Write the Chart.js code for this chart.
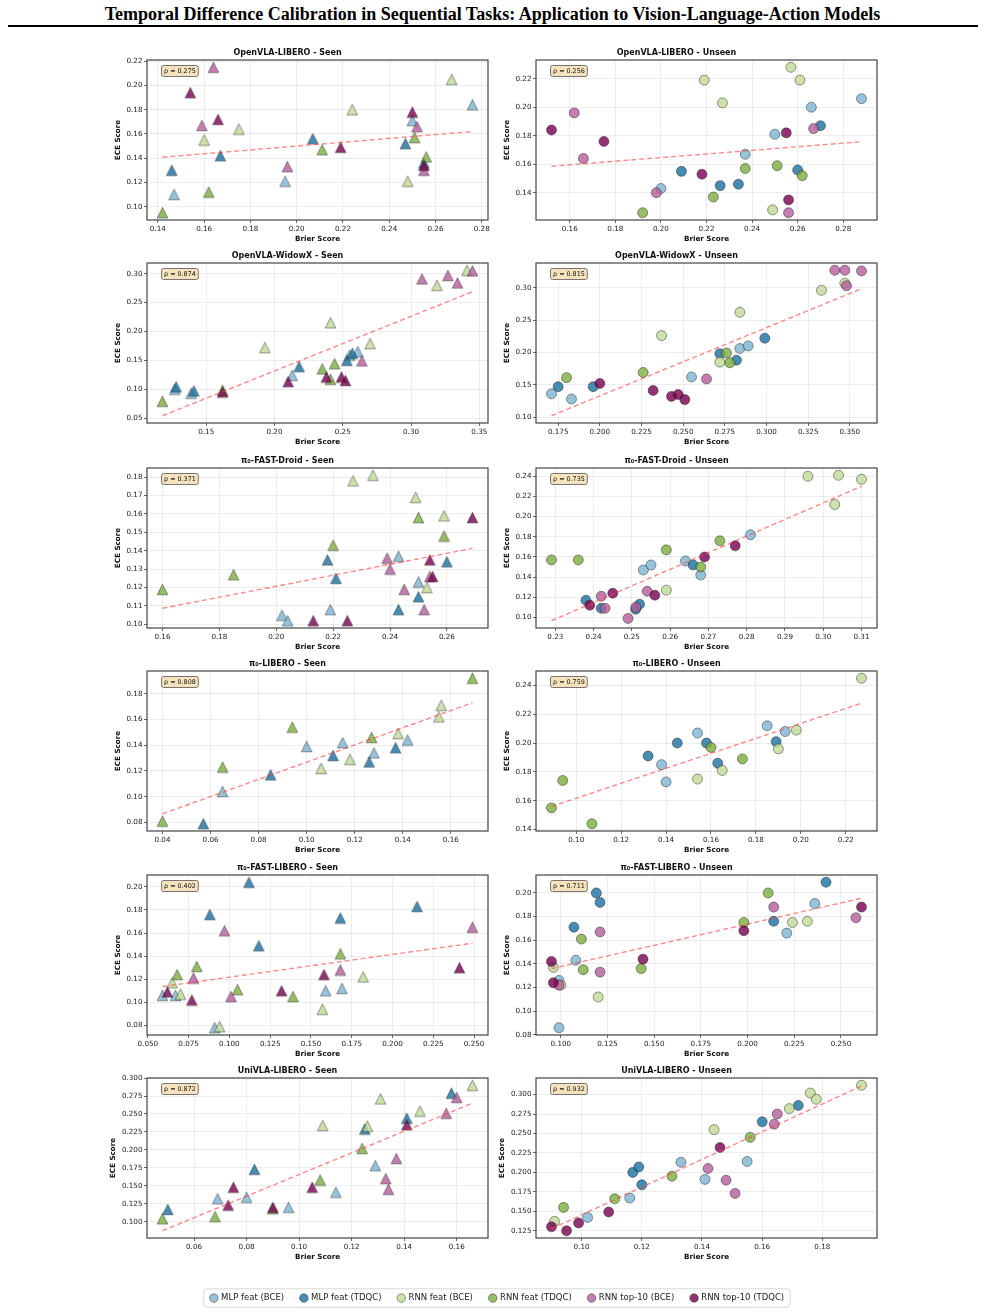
<!DOCTYPE html>
<html>
<head>
<meta charset="utf-8">
<script src="https://cdn.jsdelivr.net/npm/chart.js@4.4.1/dist/chart.umd.min.js"></script>
<style>
  html, body { margin: 0; padding: 0; background: #fff; }
  body { width: 985px; height: 1312px; position: relative; overflow: hidden; }
  #suptitle { position: absolute; left: 0; top: 3px; width: 985px; text-align: center;
    font-family: "Liberation Serif", "DejaVu Serif", serif; font-weight: bold; font-size: 18px;
    line-height: 22px; color: #000; }
  #rule { position: absolute; left: 8px; top: 25px; width: 970px; border-top: 2px solid #000; }
  canvas { position: absolute; }
</style>
</head>
<body>
<div id="suptitle">Temporal Difference Calibration in Sequential Tasks: Application to Vision-Language-Action Models</div>
<div id="rule"></div>
<script>
const seriesNames = ['MLP feat (BCE)', 'MLP feat (TDQC)', 'RNN feat (BCE)', 'RNN feat (TDQC)', 'RNN top-10 (BCE)', 'RNN top-10 (TDQC)'];
const seriesKeys = ['mlpBce', 'mlpTdqc', 'rnnBce', 'rnnTdqc', 'topBce', 'topTdqc'];

// [brier, ece] per task; fit = ends of the dashed trend line
const openvlaLiberoSeen = {
  mlpBce: [[0.147, 0.110], [0.195, 0.121], [0.250, 0.171], [0.276, 0.184]],
  mlpTdqc: [[0.146, 0.130], [0.167, 0.142], [0.207, 0.156], [0.247, 0.152], [0.255, 0.136]],
  rnnBce: [[0.160, 0.155], [0.175, 0.164], [0.224, 0.180], [0.248, 0.121], [0.267, 0.205]],
  rnnTdqc: [[0.142, 0.095], [0.162, 0.112], [0.211, 0.147], [0.251, 0.157], [0.256, 0.141]],
  topBce: [[0.159, 0.167], [0.164, 0.215], [0.196, 0.133], [0.252, 0.166], [0.255, 0.130]],
  topTdqc: [[0.154, 0.194], [0.166, 0.172], [0.219, 0.149], [0.250, 0.178], [0.255, 0.134]],
  fit: [[0.142, 0.1408], [0.276, 0.162]]
};
const openvlaLiberoUnseen = {
  mlpBce: [[0.200, 0.143], [0.237, 0.167], [0.250, 0.181], [0.266, 0.200], [0.288, 0.206]],
  mlpTdqc: [[0.209, 0.155], [0.226, 0.145], [0.234, 0.146], [0.260, 0.156], [0.270, 0.187]],
  rnnBce: [[0.219, 0.219], [0.227, 0.203], [0.249, 0.128], [0.257, 0.228], [0.261, 0.219]],
  rnnTdqc: [[0.192, 0.126], [0.223, 0.137], [0.237, 0.157], [0.251, 0.159], [0.262, 0.152]],
  topBce: [[0.162, 0.196], [0.166, 0.164], [0.198, 0.140], [0.256, 0.126], [0.267, 0.185]],
  topTdqc: [[0.152, 0.184], [0.175, 0.176], [0.218, 0.153], [0.255, 0.182], [0.256, 0.135]],
  fit: [[0.152, 0.1586], [0.288, 0.1758]]
};
const openvlaWidowxSeen = {
  mlpBce: [[0.127, 0.100], [0.139, 0.093], [0.213, 0.124], [0.255, 0.159], [0.261, 0.165]],
  mlpTdqc: [[0.128, 0.104], [0.141, 0.097], [0.218, 0.139], [0.253, 0.150], [0.257, 0.162]],
  rnnBce: [[0.193, 0.172], [0.241, 0.215], [0.270, 0.179], [0.319, 0.280], [0.341, 0.306]],
  rnnTdqc: [[0.118, 0.079], [0.162, 0.098], [0.235, 0.135], [0.241, 0.117], [0.244, 0.144]],
  topBce: [[0.264, 0.149], [0.308, 0.291], [0.327, 0.297], [0.334, 0.284], [0.345, 0.305]],
  topTdqc: [[0.162, 0.095], [0.210, 0.113], [0.238, 0.121], [0.249, 0.121], [0.252, 0.115]],
  fit: [[0.118, 0.054], [0.345, 0.2689]]
};
const openvlaWidowxUnseen = {
  mlpBce: [[0.171, 0.136], [0.183, 0.128], [0.255, 0.162], [0.284, 0.206], [0.289, 0.210]],
  mlpTdqc: [[0.175, 0.147], [0.196, 0.147], [0.272, 0.198], [0.282, 0.188], [0.299, 0.222]],
  rnnBce: [[0.237, 0.226], [0.272, 0.185], [0.284, 0.262], [0.333, 0.296], [0.347, 0.307]],
  rnnTdqc: [[0.180, 0.161], [0.226, 0.169], [0.276, 0.199], [0.278, 0.184]],
  topBce: [[0.264, 0.159], [0.341, 0.327], [0.347, 0.327], [0.348, 0.303], [0.357, 0.326]],
  topTdqc: [[0.200, 0.152], [0.232, 0.141], [0.243, 0.132], [0.247, 0.135], [0.251, 0.127]],
  fit: [[0.171, 0.1021], [0.357, 0.2985]]
};
const pi0FastDroidSeen = {
  mlpBce: [[0.202, 0.105], [0.204, 0.102], [0.219, 0.108], [0.243, 0.137], [0.250, 0.123]],
  mlpTdqc: [[0.218, 0.135], [0.221, 0.125], [0.243, 0.108], [0.250, 0.115], [0.260, 0.134]],
  rnnBce: [[0.227, 0.178], [0.234, 0.181], [0.249, 0.169], [0.253, 0.120], [0.259, 0.159]],
  rnnTdqc: [[0.160, 0.119], [0.185, 0.127], [0.220, 0.143], [0.250, 0.158], [0.259, 0.148]],
  topBce: [[0.239, 0.136], [0.240, 0.130], [0.245, 0.119], [0.252, 0.108], [0.254, 0.126]],
  topTdqc: [[0.213, 0.102], [0.225, 0.102], [0.254, 0.135], [0.255, 0.126], [0.269, 0.158]],
  fit: [[0.160, 0.1088], [0.269, 0.1413]]
};
const pi0FastDroidUnseen = {
  mlpBce: [[0.253, 0.147], [0.255, 0.152], [0.264, 0.156], [0.268, 0.142], [0.281, 0.182]],
  mlpTdqc: [[0.238, 0.117], [0.242, 0.109], [0.251, 0.108], [0.252, 0.113], [0.266, 0.152]],
  rnnBce: [[0.259, 0.127], [0.296, 0.240], [0.303, 0.212], [0.304, 0.241], [0.310, 0.237]],
  rnnTdqc: [[0.229, 0.157], [0.236, 0.157], [0.259, 0.167], [0.268, 0.150], [0.273, 0.176]],
  topBce: [[0.242, 0.121], [0.243, 0.109], [0.249, 0.099], [0.251, 0.110], [0.254, 0.126]],
  topTdqc: [[0.239, 0.112], [0.245, 0.124], [0.256, 0.122], [0.269, 0.160], [0.277, 0.171]],
  fit: [[0.229, 0.0967], [0.310, 0.2301]]
};
const pi0LiberoSeen = {
  mlpBce: [[0.065, 0.104], [0.100, 0.139], [0.115, 0.142], [0.128, 0.134], [0.142, 0.144]],
  mlpTdqc: [[0.057, 0.079], [0.085, 0.117], [0.111, 0.132], [0.126, 0.127], [0.137, 0.138]],
  rnnBce: [[0.106, 0.122], [0.118, 0.129], [0.138, 0.149], [0.155, 0.162], [0.156, 0.171]],
  rnnTdqc: [[0.040, 0.081], [0.065, 0.123], [0.094, 0.154], [0.127, 0.146], [0.169, 0.192]],
  topBce: [],
  topTdqc: [],
  fit: [[0.040, 0.0867], [0.169, 0.173]]
};
const pi0LiberoUnseen = {
  mlpBce: [[0.138, 0.185], [0.140, 0.173], [0.154, 0.207], [0.185, 0.212], [0.193, 0.208]],
  mlpTdqc: [[0.132, 0.191], [0.145, 0.200], [0.158, 0.200], [0.163, 0.186], [0.189, 0.201]],
  rnnBce: [[0.154, 0.175], [0.165, 0.181], [0.190, 0.196], [0.198, 0.209], [0.227, 0.245]],
  rnnTdqc: [[0.089, 0.155], [0.094, 0.174], [0.107, 0.144], [0.160, 0.197], [0.174, 0.189]],
  topBce: [],
  topTdqc: [],
  fit: [[0.089, 0.156], [0.227, 0.2277]]
};
const pi0FastLiberoSeen = {
  mlpBce: [[0.059, 0.106], [0.067, 0.106], [0.091, 0.078], [0.159, 0.110], [0.169, 0.112]],
  mlpTdqc: [[0.088, 0.176], [0.112, 0.204], [0.118, 0.149], [0.168, 0.173], [0.215, 0.183]],
  rnnBce: [[0.065, 0.117], [0.070, 0.107], [0.094, 0.079], [0.157, 0.094], [0.182, 0.122]],
  rnnTdqc: [[0.068, 0.124], [0.080, 0.131], [0.105, 0.111], [0.139, 0.105], [0.168, 0.142]],
  topBce: [[0.078, 0.121], [0.097, 0.162], [0.101, 0.105], [0.168, 0.128], [0.249, 0.165]],
  topTdqc: [[0.062, 0.109], [0.077, 0.102], [0.132, 0.110], [0.158, 0.124], [0.241, 0.130]],
  fit: [[0.059, 0.1137], [0.249, 0.1512]]
};
const pi0FastLiberoUnseen = {
  mlpBce: [[0.099, 0.126], [0.099, 0.086], [0.108, 0.143], [0.221, 0.166], [0.236, 0.191]],
  mlpTdqc: [[0.107, 0.171], [0.119, 0.200], [0.121, 0.192], [0.214, 0.176], [0.242, 0.209]],
  rnnBce: [[0.096, 0.137], [0.100, 0.122], [0.120, 0.112], [0.224, 0.175], [0.232, 0.176]],
  rnnTdqc: [[0.111, 0.161], [0.112, 0.135], [0.143, 0.136], [0.198, 0.175], [0.211, 0.200]],
  topBce: [[0.099, 0.122], [0.121, 0.167], [0.121, 0.133], [0.214, 0.188], [0.258, 0.179]],
  topTdqc: [[0.095, 0.142], [0.096, 0.124], [0.144, 0.144], [0.198, 0.168], [0.261, 0.188]],
  fit: [[0.095, 0.136], [0.261, 0.1955]]
};
const univlaLiberoSeen = {
  mlpBce: [[0.069, 0.132], [0.080, 0.134], [0.096, 0.120], [0.114, 0.141], [0.129, 0.178]],
  mlpTdqc: [[0.050, 0.117], [0.083, 0.173], [0.125, 0.229], [0.141, 0.244], [0.158, 0.279]],
  rnnBce: [[0.109, 0.234], [0.126, 0.233], [0.131, 0.271], [0.146, 0.254], [0.166, 0.290]],
  rnnTdqc: [[0.048, 0.104], [0.068, 0.107], [0.090, 0.118], [0.108, 0.158], [0.124, 0.202]],
  topBce: [[0.133, 0.160], [0.134, 0.145], [0.137, 0.188], [0.156, 0.251], [0.160, 0.273]],
  topTdqc: [[0.073, 0.123], [0.075, 0.148], [0.090, 0.120], [0.105, 0.148], [0.141, 0.235]],
  fit: [[0.048, 0.0874], [0.166, 0.2651]]
};
const univlaLiberoUnseen = {
  mlpBce: [[0.102, 0.142], [0.116, 0.167], [0.133, 0.213], [0.141, 0.191], [0.155, 0.214]],
  mlpTdqc: [[0.117, 0.200], [0.119, 0.207], [0.120, 0.184], [0.160, 0.265], [0.172, 0.286]],
  rnnBce: [[0.091, 0.137], [0.144, 0.255], [0.169, 0.282], [0.176, 0.302], [0.178, 0.294], [0.193, 0.312]],
  rnnTdqc: [[0.094, 0.155], [0.111, 0.166], [0.130, 0.195], [0.156, 0.245]],
  topBce: [[0.142, 0.205], [0.148, 0.190], [0.151, 0.173], [0.164, 0.262], [0.165, 0.275]],
  topTdqc: [[0.090, 0.130], [0.095, 0.125], [0.099, 0.135], [0.109, 0.149], [0.146, 0.232]],
  fit: [[0.090, 0.1276], [0.193, 0.3111]]
};

const panelTitles = ['OpenVLA-LIBERO - Seen', 'OpenVLA-LIBERO - Unseen', 'OpenVLA-WidowX - Seen', 'OpenVLA-WidowX - Unseen',
  'π₀-FAST-Droid - Seen', 'π₀-FAST-Droid - Unseen', 'π₀-LIBERO - Seen', 'π₀-LIBERO - Unseen',
  'π₀-FAST-LIBERO - Seen', 'π₀-FAST-LIBERO - Unseen', 'UniVLA-LIBERO - Seen', 'UniVLA-LIBERO - Unseen'];
const panelData = [openvlaLiberoSeen, openvlaLiberoUnseen, openvlaWidowxSeen, openvlaWidowxUnseen,
  pi0FastDroidSeen, pi0FastDroidUnseen, pi0LiberoSeen, pi0LiberoUnseen,
  pi0FastLiberoSeen, pi0FastLiberoUnseen, univlaLiberoSeen, univlaLiberoUnseen];
const rhoValues = ['0.275', '0.256', '0.874', '0.815', '0.371', '0.735', '0.808', '0.759', '0.402', '0.711', '0.872', '0.932'];
const xTickSteps = [0.02, 0.02, 0.05, 0.025, 0.02, 0.01, 0.02, 0.02, 0.025, 0.025, 0.02, 0.02];
const yTickSteps = [0.02, 0.02, 0.05, 0.05, 0.01, 0.02, 0.02, 0.02, 0.02, 0.02, 0.025, 0.025];

// look
const FONT = 'DejaVu Sans';
const fills = ['rgba(124,180,209,0.8)', 'rgba(25,111,160,0.8)', 'rgba(193,217,149,0.8)',
  'rgba(124,174,61,0.8)', 'rgba(180,93,155,0.8)', 'rgba(120,0,80,0.8)'];
const EDGE = 'rgba(30,30,30,0.75)';
const LEFTS = [147, 536], TOPS = [60, 263, 468, 671, 875, 1078];
const PW = 341, PH = 160, YW = 60, TH = 20, XH = 30, RP = 18;

const decimals = step => (String(step).split('.')[1] || '').length;

function padRange(vals) {
  const lo = Math.min(...vals), hi = Math.max(...vals), m = (hi - lo) * 0.05;
  return [lo - m, hi + m];
}

// matplotlib-style '^' marker: as wide as it is tall, centred on its box
function triangleMarker(fill) {
  const c = document.createElement('canvas');
  c.width = 13; c.height = 13;
  const g = c.getContext('2d');
  g.beginPath();
  g.moveTo(6.5, 1.2);
  g.lineTo(11.8, 11.8);
  g.lineTo(1.2, 11.8);
  g.closePath();
  g.fillStyle = fill;
  g.fill();
  g.strokeStyle = EDGE;
  g.lineWidth = 0.6;
  g.stroke();
  return c;
}
const triangles = fills.map(triangleMarker);

const framePlugin = {
  id: 'frame',
  afterDatasetsDraw(chart) {
    const { ctx, chartArea: a } = chart;
    ctx.save();
    ctx.strokeStyle = '#444';
    ctx.lineWidth = 1.2;
    ctx.strokeRect(a.left, a.top, a.right - a.left, a.bottom - a.top);
    ctx.restore();
  }
};

const rhoPlugin = {
  id: 'rhoBox',
  afterDraw(chart, args, opts) {
    const { ctx, chartArea: a } = chart;
    const tx = a.left + 0.05 * (a.right - a.left);
    const ty = a.top + 0.05 * (a.bottom - a.top);
    ctx.save();
    ctx.font = '6.4px "' + FONT + '"';
    const tw = ctx.measureText(opts.text).width;
    ctx.beginPath();
    ctx.roundRect(tx - 2.5, ty - 2.5, tw + 5, 11, 2);
    ctx.fillStyle = 'rgba(245,222,179,0.85)';
    ctx.fill();
    ctx.strokeStyle = '#555';
    ctx.lineWidth = 0.8;
    ctx.stroke();
    ctx.fillStyle = '#111';
    ctx.textBaseline = 'middle';
    ctx.fillText(opts.text, tx, ty + 3);
    ctx.restore();
  }
};

panelData.forEach((d, i) => {
  const px = LEFTS[i % 2], py = TOPS[Math.floor(i / 2)];
  const canvas = document.createElement('canvas');
  canvas.width = YW + PW + RP;
  canvas.height = TH + PH + XH;
  canvas.style.left = (px - YW) + 'px';
  canvas.style.top = (py - TH) + 'px';
  document.body.appendChild(canvas);

  const isSeen = i % 2 === 0;
  const allPts = seriesKeys.flatMap(k => d[k]).concat(d.fit);
  const [xMin, xMax] = padRange(allPts.map(p => p[0]));
  const [yMin, yMax] = padRange(allPts.map(p => p[1]));
  const xDec = decimals(xTickSteps[i]), yDec = decimals(yTickSteps[i]);
  const yLabelGap = yDec > 2 ? 34 : 29;

  const datasets = seriesKeys.map((k, s) => ({
    label: seriesNames[s],
    data: d[k].map(([x, y]) => ({ x, y })),
    pointStyle: isSeen ? triangles[s] : 'circle',
    pointRadius: 5,
    backgroundColor: fills[s],
    borderColor: EDGE,
    borderWidth: 0.6,
    clip: false,
    order: 6 - s
  }));
  datasets.push({
    label: 'fit',
    data: d.fit.map(([x, y]) => ({ x, y })),
    showLine: true,
    pointRadius: 0,
    borderColor: 'rgba(255,60,60,0.6)',
    borderWidth: 1.4,
    borderDash: [5, 3],
    order: 0
  });

  const tickFont = { family: FONT, size: 7.2 };
  const labelFont = { family: FONT, size: 7.2, weight: 'bold', lineHeight: 1.2 };

  new Chart(canvas, {
    type: 'scatter',
    data: { datasets },
    options: {
      responsive: false,
      animation: false,
      events: [],
      layout: { padding: { left: 0, right: RP, top: 0, bottom: 0 } },
      scales: {
        x: {
          type: 'linear', min: xMin, max: xMax,
          border: { display: false },
          grid: { color: 'rgba(0,0,0,0.09)', lineWidth: 0.8, tickLength: 3, tickColor: '#444', tickWidth: 0.8 },
          ticks: {
            stepSize: xTickSteps[i], includeBounds: false, autoSkip: false, maxRotation: 0, minRotation: 0,
            padding: 1.5, color: '#222', font: tickFont, callback: v => v.toFixed(xDec)
          },
          title: { display: true, text: 'Brier Score', color: '#111', font: labelFont, padding: { top: 0, bottom: 6.7 } },
          afterFit: s => { s.height = XH; }
        },
        y: {
          type: 'linear', min: yMin, max: yMax,
          border: { display: false },
          grid: { color: 'rgba(0,0,0,0.09)', lineWidth: 0.8, tickLength: 3, tickColor: '#444', tickWidth: 0.8 },
          ticks: {
            stepSize: yTickSteps[i], includeBounds: false, autoSkip: false,
            padding: 1.5, color: '#222', font: tickFont, callback: v => v.toFixed(yDec)
          },
          title: { display: true, text: 'ECE Score', color: '#111', font: labelFont,
            padding: { top: YW - yLabelGap - 4.32, bottom: 0 } },
          afterFit: s => { s.width = YW; }
        }
      },
      plugins: {
        legend: { display: false },
        tooltip: { enabled: false },
        title: {
          display: true, text: panelTitles[i], color: '#111',
          font: { family: FONT, size: 8, weight: 'bold', lineHeight: 1.2 },
          padding: { top: 8.2, bottom: 2.2 }
        },
        rhoBox: { text: 'ρ = ' + rhoValues[i] }
      }
    },
    plugins: [framePlugin, rhoPlugin]
  });
});

// shared legend along the bottom
const legendFrame = {
  id: 'legendFrame',
  beforeDraw(chart) {
    const boxes = chart.legend.legendHitBoxes;
    if (!boxes || !boxes.length) return;
    const l = Math.min(...boxes.map(b => b.left)), r = Math.max(...boxes.map(b => b.left + b.width));
    const t = Math.min(...boxes.map(b => b.top)), btm = Math.max(...boxes.map(b => b.top + b.height));
    const { ctx } = chart;
    ctx.save();
    ctx.beginPath();
    ctx.roundRect(l - 7, t - 5, r - l + 13, btm - t + 10, 3);
    ctx.fillStyle = '#fff';
    ctx.fill();
    ctx.strokeStyle = '#cfcfcf';
    ctx.lineWidth = 0.8;
    ctx.stroke();
    ctx.restore();
  }
};
const legendCanvas = document.createElement('canvas');
legendCanvas.width = 985;
legendCanvas.height = 44;
legendCanvas.style.left = '5px';
legendCanvas.style.top = '1277px';
document.body.appendChild(legendCanvas);
new Chart(legendCanvas, {
  type: 'scatter',
  data: {
    datasets: seriesNames.map((n, s) => ({
      label: n, data: [], pointStyle: 'circle',
      backgroundColor: fills[s], borderColor: EDGE, borderWidth: 0.6
    }))
  },
  options: {
    responsive: false,
    animation: false,
    events: [],
    scales: { x: { display: false }, y: { display: false } },
    plugins: {
      tooltip: { enabled: false },
      legend: {
        display: true, position: 'top', maxHeight: 40,
        labels: { usePointStyle: true, boxWidth: 6, boxHeight: 6, padding: 16.8, color: '#222', font: { family: FONT, size: 8.5 } }
      }
    }
  },
  plugins: [legendFrame]
});
</script>
</body>
</html>
